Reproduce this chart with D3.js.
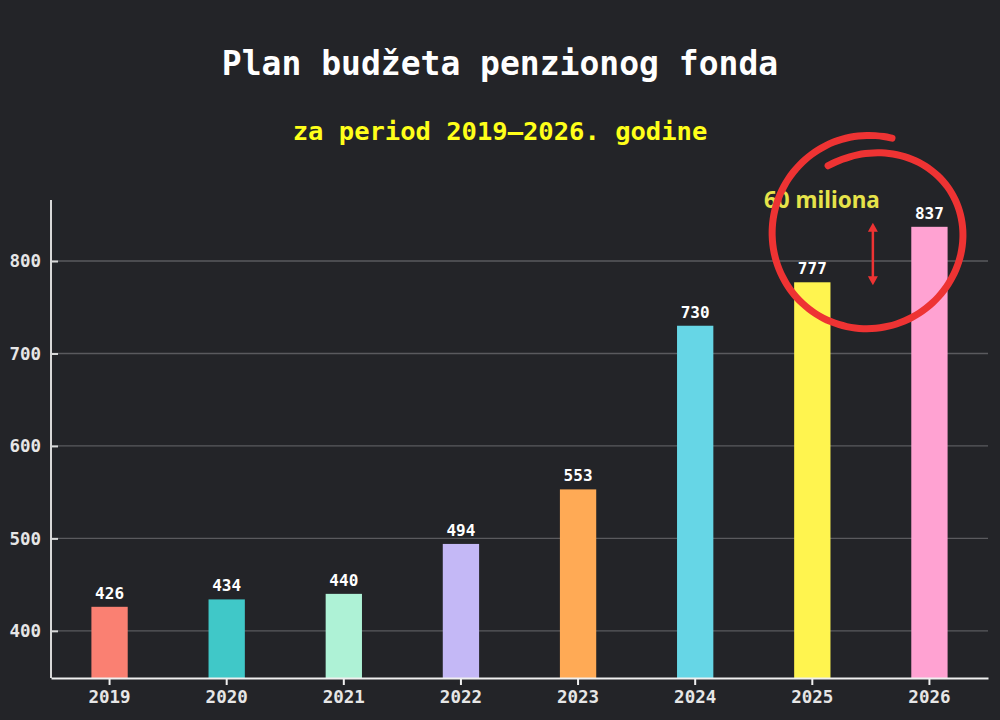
<!DOCTYPE html>
<html>
<head>
<meta charset="utf-8">
<script src="https://cdn.jsdelivr.net/npm/d3@7"></script>
<style>
  html, body { margin: 0; padding: 0; background: #232428; }
  svg { display: block; }
</style>
</head>
<body>
<svg id="chart" width="1000" height="720"></svg>
<script>
const years = ["2019", "2020", "2021", "2022", "2023", "2024", "2025", "2026"];
const values = [426, 434, 440, 494, 553, 730, 777, 837];
const colors = ["#fa8072", "#40c8c8", "#aef2d6", "#c4b8f6", "#ffaa55", "#66d6e6", "#fff44f", "#ffa2d2"];
const yTicks = [400, 500, 600, 700, 800];
const title = "Plan budžeta penzionog fonda";
const subtitle = "za period 2019–2026. godine";
const annotationText = "60 miliona";

const W = 1000, H = 720;
const margin = { top: 200, right: 12, bottom: 42, left: 51 };
const svg = d3.select("#chart");
const mono = "'DejaVu Sans Mono', 'Liberation Mono', monospace";

svg.append("rect").attr("width", W).attr("height", H).attr("fill", "#232428");

const x = d3.scaleBand().domain(years)
  .range([margin.left, W - margin.right])
  .paddingInner(0.69).paddingOuter(0.345);
const y = d3.scaleLinear().domain([349, 866]).range([H - margin.bottom, margin.top]);

// title
svg.append("text").attr("x", 500).attr("y", 75).attr("text-anchor", "middle")
  .attr("font-family", mono).attr("font-weight", "bold").attr("font-size", 33)
  .attr("fill", "#ffffff").text(title);
svg.append("text").attr("x", 500).attr("y", 140).attr("text-anchor", "middle")
  .attr("font-family", mono).attr("font-weight", "bold").attr("font-size", 25.5)
  .attr("fill", "#ffff1a").text(subtitle);

// gridlines
svg.append("g").selectAll("line").data(yTicks).join("line")
  .attr("x1", margin.left).attr("x2", W - margin.right)
  .attr("y1", d => y(d)).attr("y2", d => y(d))
  .attr("stroke", "#5a5a5e").attr("stroke-width", 1.3);

// bars
svg.append("g").selectAll("rect").data(years).join("rect")
  .attr("x", d => x(d)).attr("width", x.bandwidth())
  .attr("y", (d, i) => y(values[i]))
  .attr("height", (d, i) => y.range()[0] - y(values[i]))
  .attr("fill", (d, i) => colors[i]);

// bar labels
svg.append("g").selectAll("text").data(years).join("text")
  .attr("x", d => x(d) + x.bandwidth() / 2)
  .attr("y", (d, i) => y(values[i]) - 8)
  .attr("text-anchor", "middle")
  .attr("font-family", mono).attr("font-weight", "bold").attr("font-size", 16)
  .attr("fill", "#ffffff").text((d, i) => values[i]);

// y axis
const yAxis = svg.append("g").attr("transform", `translate(${margin.left},0)`)
  .call(d3.axisRight(y).tickValues(yTicks).tickSize(7).tickFormat(d3.format("d")));
yAxis.select(".domain").remove();
yAxis.selectAll(".tick line").attr("stroke", "#d8d8d8").attr("stroke-width", 2);
yAxis.selectAll(".tick text").attr("x", -10).attr("text-anchor", "end")
  .attr("font-family", mono).attr("font-weight", "bold").attr("font-size", 17.5)
  .attr("fill", "#e6e6e6");
svg.append("line").attr("x1", margin.left).attr("x2", margin.left)
  .attr("y1", margin.top).attr("y2", H - margin.bottom)
  .attr("stroke", "#d8d8d8").attr("stroke-width", 2);

// x axis
const xAxis = svg.append("g").attr("transform", `translate(0,${H - margin.bottom})`)
  .call(d3.axisBottom(x).tickSize(7).tickSizeOuter(0));
xAxis.select(".domain").attr("stroke", "#f0f0f0").attr("stroke-width", 2);
xAxis.selectAll(".tick line").attr("stroke", "#f0f0f0").attr("stroke-width", 2);
xAxis.selectAll(".tick text").attr("y", 25).attr("dy", 0)
  .attr("font-family", mono).attr("font-weight", "bold").attr("font-size", 17.5)
  .attr("fill", "#e6e6e6");

// annotation
const xa = x("2025") + x.bandwidth() / 2, xb = x("2026") + x.bandwidth() / 2;
const midX = (xa + xb) / 2 + 2;
svg.append("text").attr("x", midX - 51).attr("y", y(845) - 11).attr("text-anchor", "middle")
  .attr("font-family", "'Noto Sans', 'DejaVu Sans', sans-serif").attr("font-weight", "bold")
  .attr("font-size", 22.5).attr("fill", "#e6e34a").text(annotationText);

const red = "#ee3333";
const arrTop = y(837) - 4, arrBot = y(777) + 3;
svg.append("line").attr("x1", midX).attr("x2", midX).attr("y1", arrTop + 6).attr("y2", arrBot - 6)
  .attr("stroke", red).attr("stroke-width", 2.5);
svg.append("path").attr("fill", red)
  .attr("d", `M${midX},${arrTop} L${midX - 5},${arrTop + 9} L${midX + 5},${arrTop + 9} Z`);
svg.append("path").attr("fill", red)
  .attr("d", `M${midX},${arrBot} L${midX - 5},${arrBot - 9} L${midX + 5},${arrBot - 9} Z`);

// hand-drawn circle around the 2025–2026 difference
const cx = midX - 4, cy = y(830);
const loop = [];
const n = 80, theta0 = -1.33, sweep = 7.0;
for (let k = 0; k <= n; k++) {
  const t = k / n;
  const th = theta0 - t * sweep;
  const rx = 97 - 8 * t * t * t;
  const ry = 98 - 22 * t * t * t;
  loop.push([cx + rx * Math.cos(th), cy + ry * Math.sin(th)]);
}
svg.append("path")
  .attr("d", d3.line().curve(d3.curveBasis)(loop))
  .attr("fill", "none").attr("stroke", red).attr("stroke-width", 7)
  .attr("stroke-linecap", "round").attr("stroke-linejoin", "round");
</script>
</body>
</html>
